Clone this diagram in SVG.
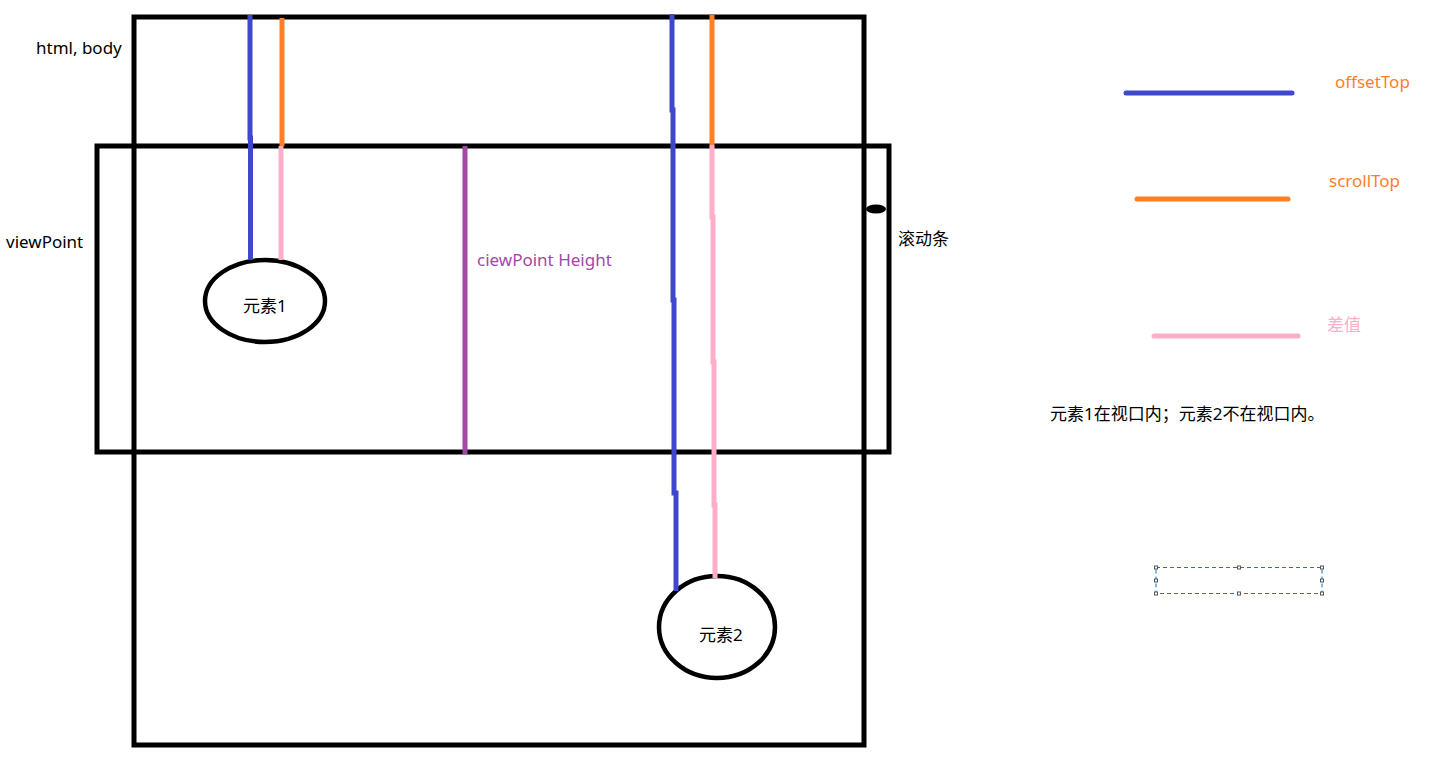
<svg xmlns="http://www.w3.org/2000/svg" width="1442" height="763" viewBox="0 0 1442 763">
<style>
.box{fill:none;stroke:#000;stroke-width:5}
.el{fill:none;stroke:#000;stroke-width:4.5}
.ln{fill:none;stroke-width:5;stroke-linecap:butt}
.blue{stroke:#3f48cc}
.orange{stroke:#ff7f27}
.pink{stroke:#ffaec9}
.purple{stroke:#a349a4}
text{font-family:"Noto Sans","Noto Sans CJK SC",sans-serif;font-size:17px;fill:#000}
.leg{stroke-width:5;stroke-linecap:round}
.handle{fill:#fff;stroke:#555;stroke-width:1}
</style>
<rect width="1442" height="763" fill="#fff"/>
<g id="html-body">
<rect class="box" x="134" y="17" width="730" height="728"/>
<text x="36" y="54">html, body</text>
</g>
<g id="viewport">
<rect class="box" x="97" y="146" width="792" height="306"/>
<text x="6" y="248">viewPoint</text>
</g>
<g id="scrollbar">
<ellipse cx="876" cy="209" rx="10" ry="4.5" fill="#000"/>
<text x="898" y="245">滚动条</text>
</g>
<g id="element1">
<ellipse class="el" cx="265" cy="301" rx="60" ry="41"/>
<text x="243" y="312">元素1</text>
</g>
<g id="element2">
<ellipse class="el" cx="717" cy="627" rx="58" ry="51"/>
<text x="699" y="641">元素2</text>
</g>
<g id="connectors">
<polyline class="ln blue" points="250,15 250,138 250.5,138 250.5,260"/>
<line class="ln orange" x1="282" y1="18" x2="282" y2="146"/>
<line class="ln pink" x1="281" y1="146" x2="281" y2="260"/>
<line class="ln purple" x1="465" y1="146" x2="465" y2="454"/>
<polyline class="ln blue" points="672,14 672,110 673,110 673,300 674,300 674,493 676,493 676,591"/>
<line class="ln orange" x1="712" y1="15" x2="712" y2="145"/>
<polyline class="ln pink" points="712,145 712,217 713,217 713,362 714,362 714,505 715,505 715,578"/>
</g>
<g id="height-label">
<text x="477" y="266" style="fill:#a349a4">ciewPoint Height</text>
</g>
<g id="legend">
<line class="leg blue" x1="1126" y1="93" x2="1292" y2="93"/>
<text x="1335" y="88" style="fill:#ff7f27">offsetTop</text>
<line class="leg orange" x1="1137" y1="199" x2="1288" y2="199"/>
<text x="1329" y="187" style="fill:#ff7f27">scrollTop</text>
<line class="leg pink" x1="1154" y1="336" x2="1298" y2="336"/>
<text x="1327" y="331" style="fill:#ffaec9">差值</text>
</g>
<g id="note">
<text x="1050" y="420">元素1在视口内；元素2不在视口内。</text>
</g>
<g id="selection">
<rect x="1156" y="567.5" width="166" height="26" fill="none" stroke="#0078d7" stroke-width="1" stroke-dasharray="4,3"/>
<rect class="handle" x="1154.5" y="566" width="3" height="3"/>
<rect class="handle" x="1237.5" y="566" width="3" height="3"/>
<rect class="handle" x="1320.5" y="566" width="3" height="3"/>
<rect class="handle" x="1154.5" y="579" width="3" height="3"/>
<rect class="handle" x="1320.5" y="579" width="3" height="3"/>
<rect class="handle" x="1154.5" y="592" width="3" height="3"/>
<rect class="handle" x="1237.5" y="592" width="3" height="3"/>
<rect class="handle" x="1320.5" y="592" width="3" height="3"/>
</g>
</svg>
